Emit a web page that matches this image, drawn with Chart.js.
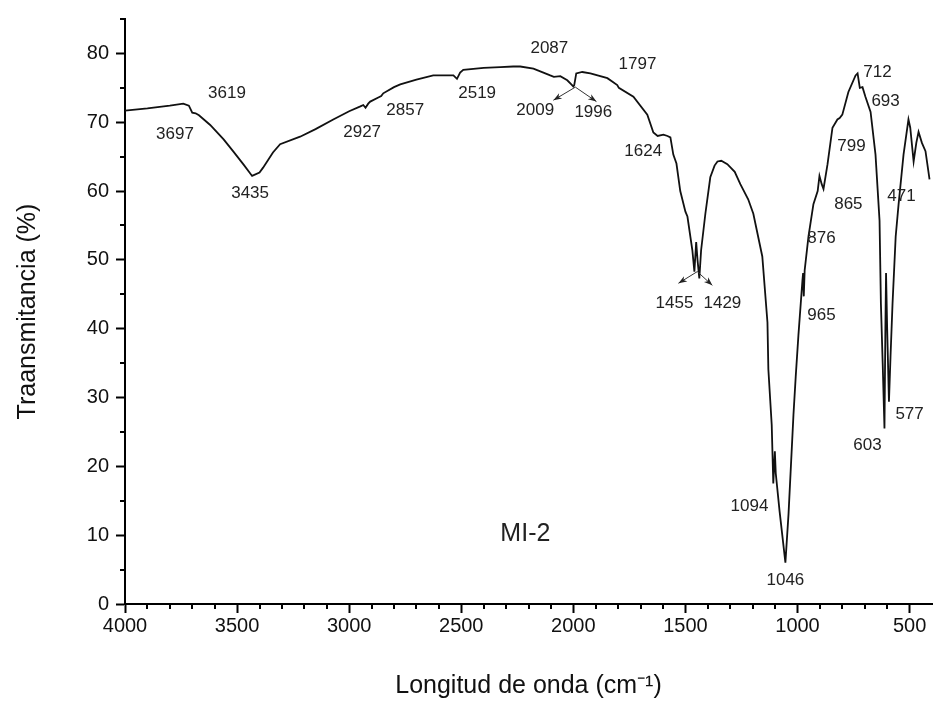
<!DOCTYPE html>
<html>
<head>
<meta charset="utf-8">
<script src="https://cdn.jsdelivr.net/npm/chart.js@4.4.1/dist/chart.umd.min.js"></script>
<style>
  body { margin: 0; background: #fff; }
  canvas { display: block; }
</style>
</head>
<body>
<canvas id="chartCanvas" width="935" height="704"></canvas>
<script>
// Spektrum MI-2 (Wellenzahl in cm-1, Transmission in %)
const wavenumbers = [
  4000, 3900, 3800, 3740, 3715, 3700, 3685, 3670, 3620, 3560, 3518, 3470, 3433, 3400, 3384,
  3340, 3308, 3219, 3150, 3071, 3000, 2950, 2937, 2927, 2915, 2906, 2870, 2857, 2848, 2800,
  2772, 2700, 2625, 2535, 2519, 2505, 2491, 2400, 2326, 2268, 2237, 2178, 2103, 2087, 2058,
  2027, 2009, 2000, 1996, 1987, 1960, 1924, 1848, 1804, 1797, 1732, 1670, 1643, 1624, 1598,
  1580, 1567, 1554, 1540, 1523, 1500, 1491, 1469, 1460, 1452, 1446, 1438, 1430, 1411, 1389,
  1370, 1357, 1340, 1313, 1280, 1255, 1220, 1197, 1157, 1134, 1130, 1115, 1108, 1101, 1097,
  1080, 1054, 1040, 1018, 1008, 996, 978, 975, 972, 968, 951, 929, 910, 902, 892,
  884, 866, 844, 822, 812, 800, 773, 741, 732, 722, 710, 697, 674, 652, 634,
  628, 620, 612, 608, 605, 600, 592, 585, 576, 562, 549, 527, 505, 497, 482,
  470, 460, 445, 429, 411
];
const transmittance = [
  71.7, 72.0, 72.4, 72.7, 72.4, 71.4, 71.3, 71.0, 69.6, 67.5, 65.8, 63.8, 62.2, 62.7, 63.4,
  65.6, 66.8, 67.9, 69.0, 70.4, 71.6, 72.3, 72.5, 72.1, 72.7, 73.0, 73.6, 73.8, 74.2, 75.1,
  75.5, 76.2, 76.8, 76.8, 76.3, 77.2, 77.6, 77.9, 78.0, 78.1, 78.1, 77.8, 76.8, 76.6, 76.7,
  76.1, 75.5, 75.2, 75.4, 77.1, 77.3, 77.1, 76.4, 75.4, 75.0, 73.7, 71.1, 68.5, 68.0, 68.2,
  68.0, 67.8, 65.3, 64.0, 60.0, 57.0, 56.3, 51.4, 48.3, 52.6, 50.0, 47.3, 51.4, 56.7, 62.0,
  63.7, 64.3, 64.4, 63.9, 62.8, 61.0, 58.8, 56.7, 50.5, 40.9, 34.1, 26.0, 17.5, 22.2, 19.0,
  13.5, 6.0, 13.1, 27.5, 33.0, 39.0, 47.0, 48.1, 44.7, 48.5, 53.4, 58.1, 60.0, 62.2, 61.0,
  60.3, 63.9, 69.2, 70.4, 70.6, 71.1, 74.4, 76.8, 77.1, 75.0, 75.1, 73.7, 71.5, 65.3, 55.7,
  43.7, 35.0, 25.5, 40.0, 48.1, 40.0, 29.4, 36.0, 43.7, 53.4, 58.1, 65.3, 70.4, 69.2, 64.3,
  67.0, 68.6, 67.0, 65.8, 61.7
];

const xTicks = [4000, 3500, 3000, 2500, 2000, 1500, 1000, 500];
const yTicks = [0, 10, 20, 30, 40, 50, 60, 70, 80];

// Bandenbeschriftungen (Position in Achsenwerten)
const peakLabels = ['3697', '3619', '3435', '2927', '2857', '2519', '2087', '2009', '1996', '1797',
  '1624', '1455', '1429', '1094', '1046', '965', '876', '865', '799', '712', '693', '471', '577', '603'];
const peakLabelX = [3777, 3545, 3442, 2942, 2750, 2429, 2107, 2170, 1911, 1714,
  1688, 1549, 1335, 1214, 1054, 893, 893, 773, 759, 643, 607, 536, 500, 688];
const peakLabelY = [68.2, 74.2, 59.6, 68.6, 71.8, 74.2, 80.7, 71.7, 71.5, 78.4,
  65.8, 43.7, 43.7, 14.2, 3.5, 41.9, 53.1, 58.1, 66.5, 77.3, 73.1, 59.3, 27.6, 23.0];

// Pfeile: [startX, startY, endX, endY]
const arrows = [
  [1991, 75.1, 2089, 73.2],
  [1991, 75.1, 1897, 73.0],
  [1447, 48.3, 1531, 46.6],
  [1447, 48.3, 1380, 46.3]
];

const FONT = "'Liberation Sans', Arial, sans-serif";

const extras = {
  id: 'extras',
  afterDraw(c) {
    const ctx = c.ctx;
    const xs = c.scales.x, ys = c.scales.y;
    const area = c.chartArea;
    ctx.save();
    // kleine Ticks
    ctx.strokeStyle = '#000';
    ctx.lineWidth = 2;
    ctx.beginPath();
    for (let v = 500; v < 4000; v += 100) {
      if (v % 500 === 0) continue;
      const px = Math.round(xs.getPixelForValue(v));
      ctx.moveTo(px, area.bottom);
      ctx.lineTo(px, area.bottom + 5);
    }
    for (let v = 5; v <= 85; v += 10) {
      const py = Math.round(ys.getPixelForValue(v));
      ctx.moveTo(area.left, py);
      ctx.lineTo(area.left - 5, py);
    }
    ctx.stroke();

    // Beschriftungen
    ctx.fillStyle = '#222';
    ctx.font = '17px ' + FONT;
    ctx.textAlign = 'center';
    ctx.textBaseline = 'middle';
    peakLabels.forEach((t, i) => {
      ctx.fillText(t, xs.getPixelForValue(peakLabelX[i]), ys.getPixelForValue(peakLabelY[i]));
    });
    ctx.font = '25px ' + FONT;
    ctx.fillText('MI-2', xs.getPixelForValue(2214), ys.getPixelForValue(10.2));

    // Pfeile
    ctx.strokeStyle = '#333';
    ctx.fillStyle = '#222';
    ctx.lineWidth = 1;
    arrows.forEach(([x1, y1, x2, y2]) => {
      const ax = xs.getPixelForValue(x1), ay = ys.getPixelForValue(y1);
      const bx = xs.getPixelForValue(x2), by = ys.getPixelForValue(y2);
      ctx.beginPath();
      ctx.moveTo(ax, ay);
      ctx.lineTo(bx, by);
      ctx.stroke();
      const ang = Math.atan2(by - ay, bx - ax);
      ctx.beginPath();
      ctx.moveTo(bx, by);
      ctx.lineTo(bx - 9 * Math.cos(ang - 0.35), by - 9 * Math.sin(ang - 0.35));
      ctx.lineTo(bx - 6 * Math.cos(ang), by - 6 * Math.sin(ang));
      ctx.lineTo(bx - 9 * Math.cos(ang + 0.35), by - 9 * Math.sin(ang + 0.35));
      ctx.closePath();
      ctx.fill();
    });
    ctx.restore();
  }
};

const ctx = document.getElementById('chartCanvas').getContext('2d');
new Chart(ctx, {
  type: 'line',
  data: {
    datasets: [{
      data: wavenumbers.map((w, i) => ({ x: w, y: transmittance[i] })),
      borderColor: '#111',
      borderWidth: 1.8,
      pointRadius: 0,
      tension: 0,
      fill: false
    }]
  },
  options: {
    responsive: false,
    animation: false,
    layout: { padding: { top: 12, right: 3, left: 0, bottom: 0 } },
    plugins: { legend: { display: false }, tooltip: { enabled: false } },
    scales: {
      x: {
        type: 'linear',
        reverse: true,
        min: 400,
        max: 4000,
        afterBuildTicks: s => { s.ticks = xTicks.map(v => ({ value: v })); },
        afterFit: s => { s.height = 100; },
        grid: { drawOnChartArea: false, drawTicks: true, tickLength: 9, tickWidth: 2, color: '#000' },
        border: { display: true, color: '#000', width: 2 },
        ticks: {
          font: { family: FONT, size: 20 }, color: '#111', padding: 1, maxRotation: 0,
          callback: v => String(v)
        },
        title: {
          display: true,
          text: 'Longitud de onda (cm⁻¹)',
          font: { family: FONT, size: 25 },
          color: '#111',
          padding: { top: 0, bottom: 3 }
        }
      },
      y: {
        min: 0,
        max: 85,
        afterBuildTicks: s => { s.ticks = yTicks.map(v => ({ value: v })); },
        afterFit: s => { s.width = 125; },
        grid: { drawOnChartArea: false, drawTicks: true, tickLength: 9, tickWidth: 2, color: '#000' },
        border: { display: true, color: '#000', width: 2 },
        ticks: {
          font: { family: FONT, size: 20 }, color: '#111', padding: 7,
          callback: v => String(v)
        },
        title: {
          display: true,
          text: 'Traansmitancia (%)',
          font: { family: FONT, size: 25 },
          color: '#111',
          padding: { top: 13, bottom: 0 }
        }
      }
    }
  },
  plugins: [extras]
});
</script>
</body>
</html>
